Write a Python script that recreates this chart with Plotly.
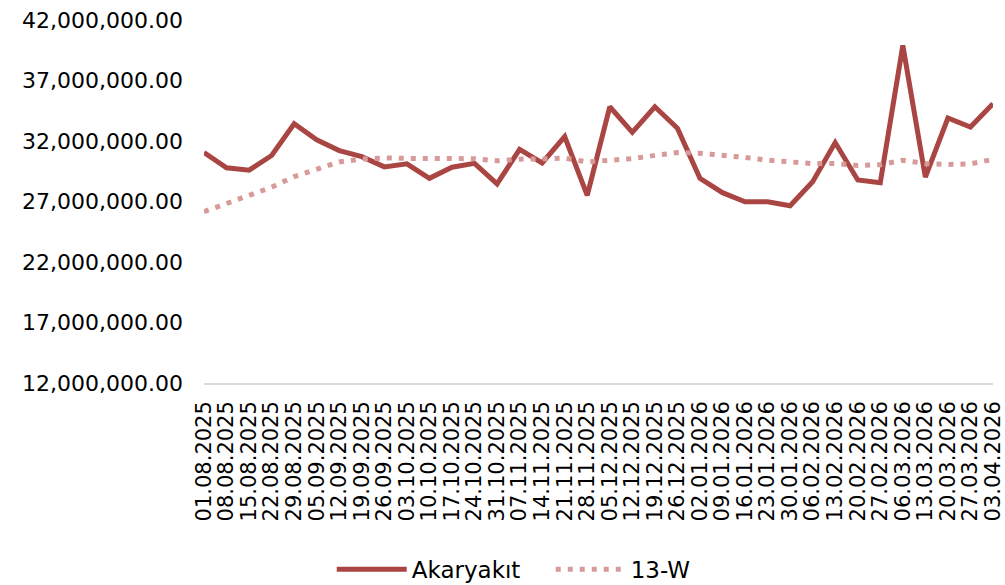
import plotly.graph_objects as go

dates = ["01.08.2025", "08.08.2025", "15.08.2025", "22.08.2025", "29.08.2025",
         "05.09.2025", "12.09.2025", "19.09.2025", "26.09.2025",
         "03.10.2025", "10.10.2025", "17.10.2025", "24.10.2025", "31.10.2025",
         "07.11.2025", "14.11.2025", "21.11.2025", "28.11.2025",
         "05.12.2025", "12.12.2025", "19.12.2025", "26.12.2025",
         "02.01.2026", "09.01.2026", "16.01.2026", "23.01.2026", "30.01.2026",
         "06.02.2026", "13.02.2026", "20.02.2026", "27.02.2026",
         "06.03.2026", "13.03.2026", "20.03.2026", "27.03.2026", "03.04.2026"]

akaryakit = [31.05, 29.78, 29.59, 30.80, 33.42, 32.10, 31.21, 30.71, 29.86, 30.11,
             28.92, 29.83, 30.15, 28.45, 31.31, 30.19, 32.37, 27.50, 34.83, 32.72,
             34.83, 33.05, 28.92, 27.73, 26.98, 26.98, 26.65, 28.64, 31.87, 28.78,
             28.56, 39.89, 29.01, 33.90, 33.15, 35.08]
akaryakit = [v * 1e6 for v in akaryakit]

w13 = [26.16, 26.82, 27.43, 28.18, 29.06, 29.69, 30.27, 30.51, 30.60, 30.56,
       30.52, 30.52, 30.54, 30.36, 30.50, 30.52, 30.58, 30.27, 30.39, 30.54,
       30.81, 31.04, 30.99, 30.85, 30.64, 30.42, 30.28, 30.13, 30.15, 29.97,
       30.04, 30.41, 30.14, 30.06, 30.11, 30.48]
w13 = [v * 1e6 for v in w13]

y_ticks = [12e6, 17e6, 22e6, 27e6, 32e6, 37e6, 42e6]
y_ticktext = ["12,000,000.00", "17,000,000.00", "22,000,000.00", "27,000,000.00",
              "32,000,000.00", "37,000,000.00", "42,000,000.00"]

FONT = "DejaVu Sans"
FS = 21

fig = go.Figure()
fig.add_trace(go.Scatter(
    x=dates, y=akaryakit, mode="lines", name="Akaryakıt",
    line=dict(color="#A94542", width=5),
))
fig.add_trace(go.Scatter(
    x=dates, y=w13, mode="lines", name="13-W",
    line=dict(color="#D89A99", width=5, dash="5px,7px"),
))

fig.update_layout(
    width=1005, height=585,
    margin=dict(l=204, r=12, t=20, b=202),
    paper_bgcolor="white", plot_bgcolor="white",
    font=dict(family=FONT, size=FS, color="#000000"),
    showlegend=True,
    legend=dict(
        orientation="h", xref="container", yref="container",
        x=0.548, xanchor="center", y=0.027, yanchor="middle",
        font=dict(family=FONT, size=23, color="#000000"),
        itemwidth=70, tracegroupgap=0, entrywidth=134,
    ),
    xaxis=dict(
        type="category", range=[0, 35], tickangle=-90,
        tickmode="array", tickvals=dates, ticktext=dates,
        showgrid=False, showline=True, linecolor="#D9D9D9", linewidth=1.5,
        ticks="", tickfont=dict(family=FONT, size=FS, color="#000000"),
        zeroline=False, automargin=False, ticklabelstandoff=8,
    ),
    yaxis=dict(
        range=[12e6, 42e6], tickvals=y_ticks, ticktext=y_ticktext,
        showgrid=False, showline=False, zeroline=False, ticks="",
        tickfont=dict(family=FONT, size=22, color="#000000"),
        automargin=False, ticklabelstandoff=20,
    ),
)

fig.write_html("out.html", config={"displayModeBar": False},
               post_script="document.body.style.margin='0';")
